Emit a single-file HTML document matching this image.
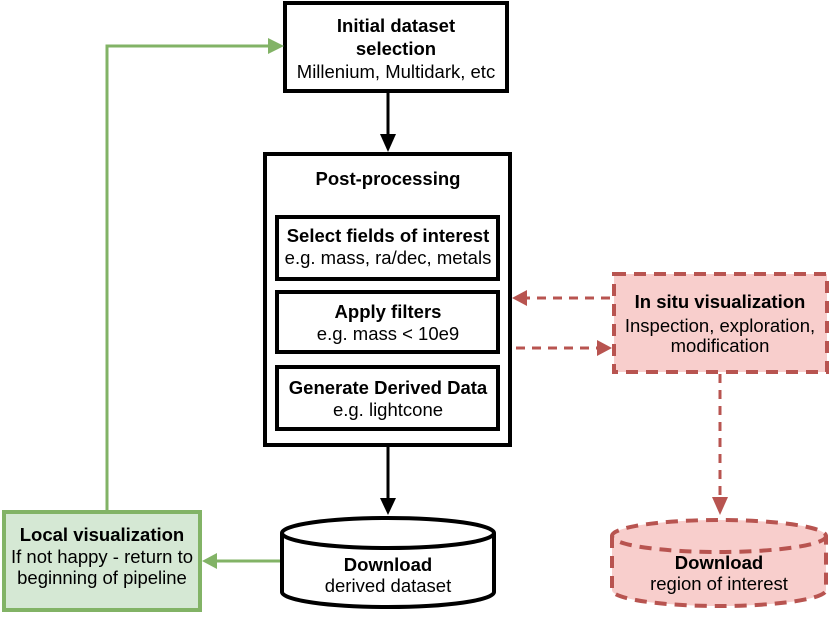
<!DOCTYPE html>
<html><head><style>
body{margin:0;width:830px;height:615px;background:#fff;overflow:hidden}
text{font-family:"Liberation Sans",Arial,sans-serif;font-size:18.5px;fill:#000;text-anchor:middle}
.b{font-weight:bold}
</style></head><body>
<svg width="830" height="615" viewBox="0 0 830 615" xmlns="http://www.w3.org/2000/svg">
<!-- top box -->
<rect x="285" y="3" width="222" height="88" fill="#fff" stroke="#000" stroke-width="4"/>
<text x="396" y="32" class="b">Initial dataset</text>
<text x="396" y="55" class="b">selection</text>
<text x="396" y="78">Millenium, Multidark, etc</text>
<line x1="388" y1="91" x2="388" y2="136" stroke="#000" stroke-width="3"/>
<polygon points="380,134 396,134 388,152" fill="#000"/>
<!-- post processing -->
<rect x="265" y="154" width="245" height="291" fill="#fff" stroke="#000" stroke-width="4"/>
<text x="388" y="185" class="b">Post-processing</text>
<rect x="277" y="217" width="221" height="62" fill="#fff" stroke="#000" stroke-width="4"/>
<text x="388" y="242" class="b">Select fields of interest</text>
<text x="388" y="264">e.g. mass, ra/dec, metals</text>
<rect x="277" y="292" width="221" height="60" fill="#fff" stroke="#000" stroke-width="4"/>
<text x="388" y="318" class="b">Apply filters</text>
<text x="388" y="340">e.g. mass &lt; 10e9</text>
<rect x="277" y="367" width="221" height="62" fill="#fff" stroke="#000" stroke-width="4"/>
<text x="388" y="394" class="b">Generate Derived Data</text>
<text x="388" y="416">e.g. lightcone</text>
<line x1="388" y1="445" x2="388" y2="500" stroke="#000" stroke-width="3"/>
<polygon points="380,498 396,498 388,515" fill="#000"/>
<!-- cylinder black -->
<path d="M282,533 L282,592 A106,15 0 0 0 494,592 L494,533 A106,15 0 0 0 282,533 A106,15 0 0 0 494,533" fill="#fff" stroke="#000" stroke-width="4"/>
<text x="388" y="571" class="b">Download</text>
<text x="388" y="592">derived dataset</text>
<!-- local vis -->
<rect x="4" y="512" width="196" height="98" fill="#d5e8d4" stroke="#82b366" stroke-width="4"/>
<text x="102" y="541" class="b">Local visualization</text>
<text x="102" y="563">If not happy - return to</text>
<text x="102" y="584">beginning of pipeline</text>
<line x1="280" y1="561" x2="215" y2="561" stroke="#82b366" stroke-width="3"/>
<polygon points="202,561 217,553 217,569" fill="#82b366"/>
<polyline points="107,510 107,46 270,46" fill="none" stroke="#82b366" stroke-width="3"/>
<polygon points="284,46 268,38 268,54" fill="#82b366"/>
<!-- in situ -->
<rect x="614" y="274" width="213" height="98" fill="#f8cecc" stroke="#b85450" stroke-width="4" stroke-dasharray="12,8"/>
<text x="720" y="308" class="b">In situ visualization</text>
<text x="720" y="332">Inspection, exploration,</text>
<text x="720" y="352">modification</text>
<line x1="610" y1="298" x2="525" y2="298" stroke="#b85450" stroke-width="3" stroke-dasharray="9,7"/>
<polygon points="512,298 527,290 527,306" fill="#b85450"/>
<line x1="516" y1="348" x2="598" y2="348" stroke="#b85450" stroke-width="3" stroke-dasharray="9,7"/>
<polygon points="612,348 597,340 597,356" fill="#b85450"/>
<line x1="720" y1="374" x2="720" y2="500" stroke="#b85450" stroke-width="3" stroke-dasharray="9,7"/>
<polygon points="712,497 728,497 720,515" fill="#b85450"/>
<path d="M612,536 L612,590 A107,16 0 0 0 826,590 L826,536 A107,16 0 0 0 612,536 A107,16 0 0 0 826,536" fill="#f8cecc" stroke="#b85450" stroke-width="4" stroke-dasharray="12,8"/>
<text x="719" y="569" class="b">Download</text>
<text x="719" y="590">region of interest</text>
</svg>
</body></html>
